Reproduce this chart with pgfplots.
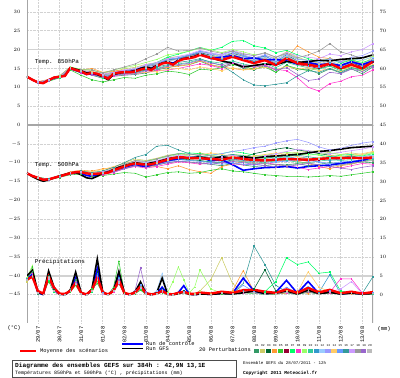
\documentclass[border=0pt]{standalone}
\usepackage{fontspec}
\setmainfont{Liberation Mono}
\usepackage{pgfplots}
\usepackage{pgfplotstable}
\pgfplotsset{compat=1.18}
\definecolor{c01}{HTML}{339966}\definecolor{c02}{HTML}{CCCC66}\definecolor{c03}{HTML}{006633}
\definecolor{c04}{HTML}{FF9933}\definecolor{c05}{HTML}{33CC33}\definecolor{c06}{HTML}{990033}
\definecolor{c07}{HTML}{00FF66}\definecolor{c08}{HTML}{FF33CC}\definecolor{c09}{HTML}{99FF66}
\definecolor{c10}{HTML}{33CC99}\definecolor{c11}{HTML}{3399CC}\definecolor{c12}{HTML}{99CCFF}
\definecolor{c13}{HTML}{9999FF}\definecolor{c14}{HTML}{FFCC66}\definecolor{c15}{HTML}{6699FF}
\definecolor{c16}{HTML}{339999}\definecolor{c17}{HTML}{CC99FF}\definecolor{c18}{HTML}{999999}
\definecolor{c19}{HTML}{9966CC}\definecolor{c20}{HTML}{BBBBBB}
\pgfplotstableset{T/.style={x expr=\coordindex/2-0.5,y index=0,header=false,row sep=\\},
P/.style={x expr={\coordindex<33 ? \coordindex/4-0.5 : \coordindex/2-8.5},y index=0,header=false,row sep=\\}}
\pgfplotsset{pert/.style={line width=0.55bp,mark=square*,mark size=0.35bp}}
\newcommand{\fs}[1]{\fontsize{#1}{#1}\selectfont}
\begin{document}
\begin{tikzpicture}
\useasboundingbox (0,0) rectangle (400bp,378bp);
\begin{axis}[at={(27bp,55bp)},anchor=south west,scale only axis,width=346bp,height=323bp,
 xmin=-0.5,xmax=15.5,ymin=-52.5,ymax=33.15,
 xtick={0,...,15},xticklabels={29/07,30/07,31/07,01/08,02/08,03/08,04/08,05/08,06/08,07/08,08/08,09/08,10/08,11/08,12/08,13/08},
 xticklabel style={rotate=90,anchor=east,font=\fs{5.5}},
 ytick={-45,-40,...,30},yticklabel style={font=\fs{5.5},xshift=-3bp},
 major tick length=0pt,axis line style={draw=none},
 grid=major,major grid style={gray!35,densely dotted,line width=0.6bp},
 clip=true]
\draw[gray!35,line width=1.5bp] (axis cs:-0.5,20)--(axis cs:15.5,20);
\draw[gray!35,line width=1.5bp] (axis cs:-0.5,10)--(axis cs:15.5,10);
\draw[gray!70,line width=1.5bp] (axis cs:-0.5,0)--(axis cs:15.5,0);
\draw[gray!35,line width=1.5bp] (axis cs:-0.5,-40)--(axis cs:15.5,-40);
\draw[gray!70,line width=1.4bp] (rel axis cs:0,0)--(rel axis cs:0,1);
\draw[gray!70,line width=1.4bp] (rel axis cs:1,0)--(rel axis cs:1,1);
% 850 hPa perturbations
\addplot[pert,c01] table[T]{12.8\\11.2\\11.8\\12.9\\14.9\\13.9\\13.2\\12.4\\12.9\\13.2\\13.4\\13.8\\14.6\\15.2\\15.8\\16.0\\16.9\\15.8\\15.5\\16.4\\15.0\\14.6\\15.8\\14.0\\15.9\\14.6\\14.8\\13.6\\14.9\\13.8\\14.9\\13.6\\15.4\\};
\addplot[pert,c02] table[T]{12.8\\11.4\\12.0\\12.7\\15.2\\14.6\\14.5\\13.8\\14.2\\14.9\\15.3\\16.1\\16.5\\17.8\\18.2\\18.4\\19.5\\19.0\\18.0\\19.2\\18.5\\17.4\\18.4\\17.8\\19.4\\18.0\\17.0\\16.4\\17.8\\16.5\\17.5\\16.2\\18.0\\};
\addplot[pert,c03] table[T]{12.8\\11.3\\11.9\\12.8\\15.0\\14.0\\13.9\\13.3\\14.0\\14.4\\14.8\\15.6\\16.2\\17.3\\17.6\\18.4\\19.2\\18.5\\17.9\\19.0\\18.2\\17.6\\18.3\\16.8\\18.6\\17.0\\16.3\\15.8\\16.4\\15.5\\16.8\\15.2\\17.4\\};
\addplot[pert,c04] table[T]{12.8\\11.5\\12.1\\13.0\\15.3\\14.6\\15.0\\14.0\\14.3\\14.6\\14.0\\14.8\\15.0\\15.3\\15.6\\16.0\\17.1\\16.0\\15.4\\15.0\\14.6\\15.2\\15.8\\16.4\\17.6\\21.0\\19.4\\18.0\\17.6\\16.8\\17.2\\16.0\\17.0\\};
\addplot[pert,c05] table[T]{12.8\\11.2\\11.6\\12.5\\14.6\\13.2\\12.0\\11.4\\12.0\\12.6\\12.4\\13.2\\13.6\\14.3\\14.0\\13.4\\14.8\\14.6\\15.2\\16.0\\15.6\\14.8\\15.4\\14.0\\15.8\\15.0\\14.4\\15.0\\15.6\\14.8\\15.4\\14.2\\15.8\\};
\addplot[pert,c06] table[T]{12.8\\11.3\\12.0\\12.9\\15.2\\14.4\\13.9\\13.2\\13.8\\14.4\\14.7\\15.4\\16.0\\17.0\\17.6\\18.2\\19.0\\18.3\\17.6\\18.6\\17.8\\16.8\\17.4\\16.2\\17.4\\16.0\\15.6\\15.0\\16.0\\15.2\\16.4\\15.6\\16.8\\};
\addplot[pert,c07] table[T]{12.8\\11.3\\11.7\\12.6\\14.8\\13.8\\13.4\\12.6\\13.2\\13.8\\14.6\\15.8\\16.6\\18.0\\18.8\\19.6\\20.6\\19.8\\20.6\\22.2\\22.4\\21.0\\20.4\\19.2\\19.8\\18.6\\17.6\\16.8\\17.6\\16.4\\17.2\\16.6\\17.4\\};
\addplot[pert,c08] table[T]{12.8\\11.2\\11.8\\12.7\\14.8\\13.9\\13.2\\12.8\\13.0\\13.4\\13.6\\14.0\\14.4\\14.6\\15.0\\15.6\\16.2\\15.8\\15.0\\16.4\\15.4\\15.6\\16.0\\14.8\\14.4\\12.6\\10.0\\9.0\\11.0\\11.6\\12.8\\13.2\\14.6\\};
\addplot[pert,c09] table[T]{12.8\\11.4\\12.0\\13.0\\15.4\\14.8\\14.6\\13.8\\14.6\\15.2\\15.8\\16.6\\17.4\\18.6\\19.0\\19.6\\20.4\\20.0\\19.2\\20.0\\19.4\\18.6\\19.0\\18.0\\18.8\\17.6\\17.2\\16.6\\17.4\\16.8\\17.6\\17.0\\18.2\\};
\addplot[pert,c10] table[T]{12.8\\11.3\\11.9\\12.8\\15.0\\14.2\\13.6\\12.8\\13.4\\13.6\\13.8\\14.6\\15.0\\15.8\\16.2\\16.6\\17.4\\16.8\\16.4\\17.0\\16.2\\15.6\\16.4\\15.2\\16.6\\15.8\\15.2\\14.8\\15.6\\14.4\\15.0\\14.6\\16.0\\};
\addplot[pert,c11] table[T]{12.8\\11.3\\11.8\\12.8\\15.1\\14.3\\13.9\\13.1\\13.8\\14.2\\14.4\\15.4\\16.2\\17.2\\17.6\\18.4\\19.2\\18.0\\17.6\\18.4\\17.6\\17.0\\17.8\\16.4\\18.0\\16.8\\16.4\\16.0\\16.6\\15.8\\16.6\\15.8\\17.2\\};
\addplot[pert,c12] table[T]{12.8\\11.2\\11.9\\12.9\\15.0\\14.1\\13.7\\13.0\\13.4\\14.0\\14.2\\15.2\\15.8\\17.0\\17.4\\18.0\\18.8\\18.4\\18.0\\18.8\\18.2\\17.6\\18.0\\17.2\\18.4\\17.6\\17.0\\16.8\\17.4\\16.6\\17.6\\17.2\\18.0\\};
\addplot[pert,c13] table[T]{12.8\\11.3\\12.0\\12.9\\15.2\\14.4\\14.2\\13.5\\14.0\\14.5\\14.8\\15.8\\16.4\\17.6\\17.8\\18.6\\19.4\\18.8\\18.4\\19.2\\18.6\\17.8\\18.6\\17.4\\18.8\\17.4\\17.2\\16.6\\17.6\\16.8\\18.0\\18.4\\19.6\\};
\addplot[pert,c14] table[T]{12.8\\11.4\\12.0\\12.9\\15.2\\14.4\\14.2\\13.4\\13.8\\13.8\\13.6\\14.0\\14.2\\14.8\\15.0\\14.6\\15.4\\15.0\\14.4\\15.2\\14.6\\14.8\\15.4\\14.6\\15.6\\14.8\\15.2\\14.4\\15.0\\14.2\\15.4\\14.6\\16.0\\};
\addplot[pert,c15] table[T]{12.8\\11.3\\11.9\\12.8\\15.0\\14.1\\13.6\\13.0\\13.6\\14.2\\14.6\\15.6\\16.2\\17.4\\17.8\\18.6\\19.6\\19.0\\18.6\\19.6\\18.4\\17.4\\18.4\\16.8\\18.2\\16.6\\15.8\\15.4\\16.4\\15.4\\16.6\\15.8\\17.6\\};
\addplot[pert,c16] table[T]{12.8\\11.3\\11.8\\12.7\\14.9\\14.0\\13.6\\12.8\\13.2\\13.6\\14.0\\14.6\\15.4\\16.0\\16.6\\17.0\\17.6\\16.6\\15.8\\14.0\\12.0\\10.6\\10.4\\10.8\\11.2\\13.0\\14.4\\14.0\\15.0\\14.0\\15.2\\14.8\\15.8\\};
\addplot[pert,c17] table[T]{12.8\\11.4\\12.0\\12.8\\15.2\\14.5\\14.0\\13.4\\14.0\\14.6\\15.0\\16.0\\16.6\\17.6\\18.2\\18.8\\19.8\\19.2\\18.6\\19.8\\19.0\\18.4\\19.0\\18.0\\19.2\\18.4\\18.0\\17.6\\18.8\\18.4\\19.4\\20.0\\21.6\\};
\addplot[pert,c18] table[T]{12.8\\11.3\\11.9\\12.9\\15.3\\14.6\\14.6\\13.8\\14.6\\15.4\\16.2\\17.6\\18.8\\20.6\\19.6\\19.8\\20.4\\19.6\\19.0\\19.6\\18.8\\18.4\\19.2\\18.0\\19.0\\17.8\\18.6\\19.6\\21.6\\19.4\\18.6\\17.6\\18.6\\};
\addplot[pert,c19] table[T]{12.8\\11.2\\11.8\\12.7\\14.9\\14.0\\13.4\\12.8\\13.2\\13.6\\13.6\\14.4\\14.8\\15.6\\16.0\\16.4\\17.2\\16.4\\16.0\\16.6\\15.8\\15.4\\15.8\\14.6\\15.2\\13.4\\11.8\\12.2\\14.0\\13.6\\14.8\\14.2\\15.4\\};
\addplot[pert,c20] table[T]{12.8\\11.3\\11.9\\12.8\\15.1\\14.3\\13.8\\13.2\\13.6\\14.2\\14.6\\15.4\\16.2\\17.0\\17.4\\18.2\\18.8\\18.2\\17.8\\18.6\\17.8\\17.2\\17.8\\16.6\\18.2\\17.0\\16.6\\16.2\\17.0\\16.0\\16.8\\16.2\\17.4\\};
% 500 hPa perturbations
\addplot[pert,c01] table[T]{-12.8\\-14.1\\-14.5\\-13.8\\-13.0\\-12.6\\-13.2\\-13.0\\-12.4\\-11.6\\-10.8\\-11.2\\-10.6\\-10.0\\-9.6\\-9.8\\-10.2\\-10.4\\-10.8\\-10.2\\-10.6\\-11.0\\-10.8\\-10.4\\-10.6\\-10.2\\-10.8\\-10.4\\-10.0\\-10.4\\-10.2\\-9.8\\-10.0\\};
\addplot[pert,c02] table[T]{-12.8\\-13.9\\-14.3\\-13.4\\-12.6\\-12.2\\-12.6\\-12.2\\-11.2\\-10.0\\-9.0\\-9.4\\-8.8\\-8.0\\-7.6\\-8.0\\-7.4\\-8.0\\-8.6\\-8.0\\-8.2\\-8.8\\-9.0\\-8.4\\-7.6\\-7.2\\-7.0\\-6.8\\-7.4\\-7.8\\-7.4\\-7.8\\-7.2\\};
\addplot[pert,c03] table[T]{-12.8\\-14.0\\-14.4\\-13.6\\-12.9\\-12.6\\-13.1\\-12.9\\-12.2\\-11.2\\-10.4\\-10.6\\-10.4\\-9.6\\-9.0\\-9.2\\-9.4\\-9.8\\-10.0\\-9.2\\-8.6\\-7.6\\-7.0\\-6.4\\-6.0\\-6.6\\-7.0\\-7.6\\-8.0\\-8.6\\-8.2\\-8.8\\-8.4\\};
\addplot[pert,c04] table[T]{-12.8\\-14.0\\-14.3\\-13.5\\-12.4\\-12.0\\-12.2\\-11.6\\-11.6\\-10.4\\-10.0\\-10.8\\-11.0\\-11.6\\-10.8\\-11.8\\-12.4\\-12.8\\-11.0\\-10.4\\-9.6\\-9.0\\-8.4\\-8.0\\-8.8\\-9.6\\-10.2\\-11.0\\-11.6\\-10.8\\-10.4\\-9.6\\-9.0\\};
\addplot[pert,c05] table[T]{-12.8\\-14.1\\-14.6\\-13.9\\-13.2\\-13.0\\-13.6\\-13.4\\-13.0\\-12.6\\-12.8\\-13.8\\-13.2\\-12.6\\-12.4\\-12.8\\-12.6\\-12.0\\-11.6\\-12.2\\-12.4\\-12.8\\-13.2\\-13.4\\-13.6\\-13.6\\-13.8\\-13.6\\-13.4\\-13.6\\-13.2\\-12.8\\-12.4\\};
\addplot[pert,c06] table[T]{-12.8\\-14.0\\-14.4\\-13.7\\-12.9\\-12.6\\-13.0\\-12.7\\-11.8\\-10.8\\-10.0\\-10.2\\-9.6\\-8.8\\-8.4\\-8.6\\-8.4\\-8.8\\-9.0\\-8.4\\-8.8\\-9.2\\-9.4\\-9.0\\-8.8\\-9.2\\-9.6\\-9.2\\-8.8\\-9.0\\-8.6\\-9.0\\-8.8\\};
\addplot[pert,c07] table[T]{-12.8\\-13.9\\-14.3\\-13.5\\-12.7\\-12.4\\-12.8\\-12.6\\-11.8\\-10.6\\-9.6\\-9.6\\-9.0\\-8.2\\-7.6\\-7.4\\-7.6\\-8.0\\-7.6\\-7.0\\-7.4\\-8.0\\-8.4\\-8.8\\-8.4\\-8.0\\-7.6\\-8.0\\-8.4\\-8.0\\-7.8\\-8.2\\-7.6\\};
\addplot[pert,c08] table[T]{-12.8\\-14.0\\-14.5\\-13.7\\-13.0\\-12.8\\-13.2\\-13.2\\-12.6\\-11.6\\-11.0\\-11.4\\-11.0\\-10.4\\-9.8\\-10.0\\-10.4\\-10.0\\-9.8\\-10.2\\-10.6\\-10.4\\-10.0\\-10.4\\-10.8\\-11.2\\-11.8\\-11.4\\-11.0\\-11.4\\-10.8\\-10.2\\-10.4\\};
\addplot[pert,c09] table[T]{-12.8\\-14.0\\-14.4\\-13.6\\-12.8\\-12.5\\-12.9\\-12.5\\-11.6\\-10.6\\-9.4\\-9.8\\-9.0\\-8.4\\-7.8\\-8.2\\-8.4\\-8.0\\-8.4\\-7.8\\-8.0\\-8.4\\-8.0\\-7.6\\-7.2\\-7.6\\-8.0\\-7.8\\-7.4\\-7.8\\-8.2\\-8.0\\-7.4\\};
\addplot[pert,c10] table[T]{-12.8\\-14.0\\-14.4\\-13.6\\-12.8\\-12.4\\-12.8\\-12.6\\-12.0\\-11.0\\-10.4\\-10.8\\-10.2\\-9.6\\-9.0\\-9.4\\-9.6\\-9.8\\-10.0\\-9.4\\-9.8\\-10.2\\-9.8\\-9.6\\-9.4\\-9.8\\-10.0\\-9.6\\-9.2\\-9.4\\-9.2\\-9.6\\-9.2\\};
\addplot[pert,c11] table[T]{-12.8\\-14.1\\-14.5\\-13.7\\-12.9\\-12.6\\-13.0\\-12.8\\-12.0\\-11.0\\-10.0\\-10.2\\-9.8\\-9.0\\-8.4\\-8.8\\-9.0\\-9.4\\-9.6\\-9.0\\-9.4\\-9.8\\-9.6\\-9.2\\-8.8\\-8.4\\-8.8\\-9.0\\-9.4\\-9.0\\-8.8\\-8.4\\-8.0\\};
\addplot[pert,c12] table[T]{-12.8\\-14.0\\-14.4\\-13.6\\-12.8\\-12.4\\-12.8\\-12.6\\-11.8\\-10.8\\-10.0\\-10.0\\-9.6\\-9.0\\-8.4\\-8.6\\-8.8\\-9.0\\-8.8\\-8.4\\-8.8\\-9.0\\-9.2\\-8.8\\-8.6\\-8.8\\-9.0\\-8.8\\-8.6\\-8.4\\-8.2\\-8.4\\-8.0\\};
\addplot[pert,c13] table[T]{-12.8\\-14.0\\-14.4\\-13.6\\-12.8\\-12.5\\-12.9\\-12.7\\-12.0\\-11.0\\-10.0\\-10.2\\-9.8\\-9.2\\-8.6\\-8.8\\-8.4\\-8.0\\-7.6\\-7.0\\-6.6\\-6.0\\-5.6\\-4.8\\-4.2\\-3.8\\-4.6\\-5.8\\-6.6\\-6.2\\-5.4\\-4.8\\-4.4\\};
\addplot[pert,c14] table[T]{-12.8\\-14.0\\-14.3\\-13.5\\-12.6\\-12.2\\-12.4\\-11.8\\-11.0\\-10.2\\-9.6\\-10.4\\-10.0\\-9.4\\-8.8\\-8.6\\-8.0\\-7.4\\-7.8\\-8.4\\-8.8\\-8.2\\-7.8\\-7.4\\-7.8\\-8.4\\-9.0\\-8.6\\-8.0\\-8.4\\-8.0\\-7.6\\-7.0\\};
\addplot[pert,c15] table[T]{-12.8\\-14.0\\-14.4\\-13.6\\-12.8\\-12.5\\-13.0\\-12.9\\-12.2\\-11.2\\-10.6\\-10.8\\-10.4\\-9.8\\-9.2\\-9.4\\-9.6\\-10.0\\-10.4\\-10.0\\-10.4\\-10.6\\-10.2\\-9.8\\-9.6\\-9.2\\-9.4\\-9.8\\-10.2\\-9.8\\-9.6\\-9.2\\-8.8\\};
\addplot[pert,c16] table[T]{-12.8\\-13.9\\-14.3\\-13.5\\-12.6\\-12.2\\-12.6\\-12.2\\-11.2\\-10.0\\-8.6\\-7.8\\-5.6\\-5.4\\-6.6\\-7.6\\-8.2\\-8.6\\-8.2\\-7.8\\-8.2\\-8.6\\-8.8\\-8.4\\-8.2\\-8.0\\-8.4\\-8.8\\-8.4\\-8.6\\-8.2\\-8.8\\-8.4\\};
\addplot[pert,c17] table[T]{-12.8\\-14.0\\-14.4\\-13.6\\-12.7\\-12.4\\-12.8\\-12.4\\-11.6\\-10.4\\-9.6\\-9.8\\-9.4\\-8.6\\-8.0\\-8.4\\-8.6\\-8.8\\-8.4\\-8.0\\-8.4\\-8.6\\-8.2\\-7.6\\-7.0\\-6.4\\-6.8\\-7.2\\-7.6\\-7.2\\-6.8\\-6.4\\-5.8\\};
\addplot[pert,c18] table[T]{-12.8\\-14.0\\-14.4\\-13.6\\-12.8\\-12.6\\-13.0\\-12.6\\-11.6\\-10.4\\-9.4\\-9.6\\-9.0\\-8.2\\-7.6\\-7.8\\-7.8\\-8.2\\-8.8\\-9.2\\-9.6\\-10.0\\-10.2\\-10.6\\-10.8\\-10.4\\-10.0\\-10.6\\-11.0\\-10.6\\-10.2\\-9.8\\-9.4\\};
\addplot[pert,c19] table[T]{-12.8\\-14.1\\-14.5\\-13.8\\-13.0\\-12.8\\-13.2\\-13.0\\-12.4\\-11.6\\-10.8\\-11.0\\-10.6\\-10.0\\-9.6\\-9.8\\-10.0\\-10.4\\-10.0\\-9.6\\-10.0\\-10.4\\-10.8\\-11.2\\-11.0\\-10.6\\-10.2\\-10.6\\-11.0\\-11.4\\-11.8\\-11.2\\-10.8\\};
\addplot[pert,c20] table[T]{-12.8\\-14.0\\-14.4\\-13.6\\-12.8\\-12.5\\-12.9\\-12.7\\-11.9\\-10.9\\-10.1\\-10.3\\-9.9\\-9.1\\-8.6\\-8.7\\-8.7\\-9.0\\-9.1\\-8.6\\-9.0\\-9.2\\-9.4\\-9.1\\-8.9\\-9.0\\-9.1\\-8.9\\-8.7\\-8.7\\-8.6\\-8.7\\-8.5\\};
% control, GFS, mean 850
\addplot[blue,line width=1.6bp] table[P]{12.8\\12.0\\11.3\\11.2\\11.9\\12.5\\12.8\\13.0\\15.0\\14.5\\14.0\\13.4\\13.6\\13.4\\12.9\\12.4\\13.4\\13.8\\14.0\\14.2\\14.4\\15.0\\15.2\\15.0\\15.8\\16.4\\16.8\\16.4\\17.2\\17.6\\17.8\\18.2\\18.8\\17.6\\18.0\\18.4\\17.6\\17.8\\17.2\\17.4\\17.0\\16.2\\16.6\\16.0\\16.2\\15.8\\16.8\\16.0\\17.0\\};
\addplot[black,line width=1.6bp] table[P]{12.8\\12.0\\11.3\\11.1\\11.9\\12.6\\12.9\\13.0\\15.2\\14.8\\14.4\\13.8\\14.0\\13.4\\12.8\\12.0\\13.4\\13.8\\14.0\\14.1\\14.4\\15.0\\15.4\\15.0\\15.8\\16.4\\16.8\\16.2\\17.2\\17.6\\17.9\\18.2\\18.8\\17.8\\17.0\\16.4\\15.4\\15.8\\16.2\\16.0\\16.8\\16.6\\16.8\\17.2\\17.0\\17.4\\17.6\\17.8\\18.6\\};
\addplot[red,line width=2.4bp] table[P]{12.8\\12.0\\11.3\\11.1\\11.9\\12.6\\12.8\\13.0\\15.1\\14.6\\14.2\\13.5\\13.8\\13.6\\13.0\\12.3\\13.6\\13.9\\14.0\\14.0\\14.2\\14.7\\15.0\\14.6\\15.6\\16.3\\16.6\\16.0\\17.0\\17.5\\17.7\\18.0\\18.6\\17.8\\17.2\\18.1\\17.2\\16.4\\17.2\\15.9\\17.7\\16.4\\16.0\\15.5\\16.3\\15.0\\16.0\\15.0\\16.8\\};
% control, GFS, mean 500
\addplot[blue,line width=1.6bp] table[P]{-12.8\\-13.5\\-14.1\\-14.6\\-14.4\\-14.0\\-13.6\\-13.2\\-12.8\\-12.6\\-12.8\\-13.4\\-13.6\\-13.2\\-12.8\\-12.4\\-12.0\\-11.6\\-11.2\\-10.8\\-10.4\\-10.8\\-11.0\\-10.6\\-10.2\\-9.8\\-9.4\\-9.2\\-9.0\\-8.8\\-8.6\\-8.6\\-8.5\\-9.5\\-9.2\\-10.5\\-12.0\\-11.6\\-11.3\\-11.2\\-11.0\\-11.4\\-11.0\\-10.8\\-10.6\\-10.2\\-9.8\\-9.4\\-8.6\\};
\addplot[black,line width=1.6bp] table[P]{-12.8\\-13.7\\-14.4\\-14.9\\-14.6\\-14.0\\-13.5\\-13.1\\-12.7\\-12.6\\-13.2\\-14.0\\-14.2\\-13.6\\-12.8\\-12.5\\-11.8\\-11.2\\-10.8\\-10.4\\-10.0\\-10.2\\-10.4\\-10.0\\-9.8\\-9.4\\-9.0\\-8.7\\-8.5\\-8.6\\-8.8\\-8.6\\-8.5\\-9.0\\-8.4\\-8.8\\-8.4\\-8.8\\-8.4\\-8.2\\-8.0\\-7.8\\-7.4\\-7.0\\-6.8\\-6.4\\-6.0\\-5.8\\-5.6\\};
\addplot[red,line width=2.4bp] table[P]{-12.8\\-13.5\\-14.0\\-14.5\\-14.4\\-14.0\\-13.6\\-13.2\\-12.8\\-12.5\\-12.5\\-12.8\\-13.0\\-12.9\\-12.8\\-12.6\\-12.0\\-11.5\\-11.0\\-10.5\\-10.2\\-10.4\\-10.5\\-10.4\\-10.0\\-9.6\\-9.2\\-8.8\\-8.6\\-8.6\\-8.8\\-8.8\\-8.8\\-9.0\\-9.2\\-8.6\\-9.0\\-9.3\\-9.4\\-9.2\\-9.0\\-9.1\\-9.2\\-9.0\\-8.8\\-8.8\\-8.7\\-8.8\\-8.6\\};
\node[anchor=west,font=\fs{6}] at (axis cs:-0.3,16.8) {Temp. 850hPa};
\node[anchor=west,font=\fs{6}] at (axis cs:-0.3,-10.5) {Temp. 500hPa};
\node[anchor=west,font=\fs{6}] at (axis cs:-0.3,-36.2) {Précipitations};
\end{axis}
\begin{axis}[at={(27bp,55bp)},anchor=south west,scale only axis,width=346bp,height=323bp,
 xmin=-0.5,xmax=15.5,ymin=-7.5,ymax=78.15,
 hide x axis,axis line style={draw=none},axis y line*=right,
 ytick={0,5,...,75},yticklabel style={font=\fs{5.5},xshift=3bp},major tick length=0pt,clip=true]
\addplot[pert,c01] table[P]{4.5\\6\\0.3\\0\\5\\1.2\\0.1\\0\\1.5\\4\\0.2\\0\\0.8\\5\\0.5\\0\\1.2\\4.5\\0.2\\0\\0.3\\1.5\\0.1\\0\\0.2\\0.8\\0\\0\\0.2\\0.4\\0\\0\\0.1\\0\\0.3\\0.1\\0.5\\0.4\\0.1\\0.2\\0.5\\0.1\\0.6\\0.2\\0.5\\0.1\\0.3\\0\\0.2\\};
\addplot[pert,c02] table[P]{3.5\\5\\0.4\\0\\4\\0.8\\0\\0\\0.8\\2.5\\0.2\\0\\0.8\\3.5\\0.3\\0\\0.8\\3\\0.2\\0\\0.4\\1.6\\0.1\\0\\0.2\\0.8\\0\\0\\0.2\\0.5\\0\\0.2\\1\\4\\9.8\\3\\0.6\\0.4\\0.2\\0.3\\0.6\\0.2\\0.8\\0.2\\0.6\\0.2\\0.4\\0.1\\0.3\\};
\addplot[pert,c03] table[P]{4\\5.5\\0.6\\0\\5\\1.3\\0\\0\\1.2\\3.5\\0.4\\0\\1.2\\6\\0.5\\0\\1.2\\4\\0.4\\0\\0.6\\2.5\\0.2\\0\\0.4\\1.5\\0\\0\\0.4\\1\\0\\0\\0.3\\0.2\\0.4\\0.3\\1\\1.5\\6.6\\1\\0.6\\0.2\\0.8\\0.2\\0.6\\0.2\\0.4\\0.1\\0.3\\};
\addplot[pert,c04] table[P]{4\\5\\0.5\\0\\4.2\\1\\0\\0\\1\\3.2\\0.3\\0\\1.3\\4.5\\0.4\\0\\0.8\\3\\0.2\\0\\0.4\\1.8\\0.1\\0\\0.3\\1.2\\0\\0\\0.2\\0.5\\0\\0\\0.4\\0.2\\0.4\\1\\6.4\\0.8\\0.5\\0.2\\0.4\\1\\0.3\\1.2\\0.4\\0.8\\0.2\\0.6\\0.1\\};
\addplot[pert,c05] table[P]{4\\7.5\\0.4\\0\\3.5\\0.8\\0\\0\\0.8\\2.5\\0.3\\0\\1.5\\3\\0.5\\0\\2\\8.9\\0.5\\0\\0.3\\1.2\\0.1\\0\\0.2\\0.6\\0\\0\\0.2\\0.4\\0\\0\\0.2\\0\\0.3\\0.1\\0.6\\0.4\\0.1\\0.2\\0.6\\0.1\\0.8\\0.2\\0.6\\0.1\\0.4\\0.1\\0.3\\};
\addplot[pert,c06] table[P]{4.2\\5.2\\0.5\\0\\4.6\\1\\0\\0\\1\\3.4\\0.3\\0\\1\\4.6\\0.4\\0\\1\\3.6\\0.3\\0\\0.5\\2.2\\0.2\\0\\0.3\\1\\0\\0\\0.3\\0.8\\0\\0\\0.3\\0\\0.5\\0.2\\1\\0.6\\0.2\\0.3\\0.8\\0.2\\1.2\\0.3\\0.8\\0.2\\0.5\\0.1\\0.4\\};
\addplot[pert,c07] table[P]{3.8\\5\\0.5\\0\\4\\0.8\\0\\0\\0.9\\2.8\\0.2\\0\\0.8\\3.6\\0.3\\0\\0.8\\3\\0.2\\0\\0.4\\1.6\\0.1\\0\\0.2\\0.8\\0\\0\\0.2\\0.5\\0\\0\\0.2\\0\\0.4\\0.2\\0.6\\0.4\\0.8\\3.5\\9.8\\8.0\\8.7\\5.7\\6.0\\1.0\\0.4\\0.2\\0.4\\};
\addplot[pert,c08] table[P]{4\\5.6\\0.4\\0\\4.4\\1\\0\\0\\1\\3\\0.3\\0\\1\\4\\0.4\\0\\0.8\\3\\0.3\\0\\0.5\\1.8\\0.2\\0\\0.3\\0.8\\0\\0\\0.3\\0.6\\0\\0\\0.3\\0\\0.4\\0.2\\0.6\\0.5\\0.2\\0.3\\0.6\\0.2\\0.8\\0.3\\0.6\\4.2\\4.2\\0.5\\0.3\\};
\addplot[pert,c09] table[P]{4.5\\7.8\\0.6\\0\\4.8\\1\\0\\0\\1\\3\\0.3\\0\\1\\4.2\\0.4\\0\\1\\3.5\\0.3\\0\\0.5\\2\\0.2\\0\\0.3\\1\\0.5\\3.5\\7.4\\4\\0.5\\2\\6.6\\1.5\\0.5\\0.2\\0.8\\0.6\\0.2\\0.3\\0.8\\0.2\\1\\0.3\\0.8\\0.2\\0.5\\0.1\\0.4\\};
\addplot[pert,c10] table[P]{3.8\\4.8\\0.5\\0\\4.2\\0.9\\0\\0\\0.9\\2.8\\0.3\\0\\0.9\\3.8\\0.3\\0\\0.9\\3.2\\0.3\\0\\0.4\\1.8\\0.2\\0\\0.2\\0.9\\0\\0\\0.3\\0.5\\0\\0\\0.2\\0\\0.4\\0.2\\0.7\\0.5\\0.2\\0.3\\0.7\\0.2\\0.9\\0.3\\0.7\\0.2\\0.4\\0.1\\0.3\\};
\addplot[pert,c11] table[P]{4.2\\5.2\\0.5\\0\\4.6\\1.1\\0\\0\\1.1\\3.6\\0.4\\0\\1.2\\5.5\\0.5\\0\\1.2\\4.5\\0.4\\0\\0.6\\2.4\\0.2\\0\\0.4\\1.2\\0\\0\\0.3\\0.8\\0\\0\\0.3\\0.1\\0.6\\0.3\\1\\0.8\\0.3\\0.4\\1\\0.3\\1.4\\0.6\\5.3\\0.4\\0.6\\0.2\\0.5\\};
\addplot[pert,c12] table[P]{4\\5\\0.5\\0\\4.5\\1\\0\\0\\1\\3.2\\0.3\\0\\1.1\\4.4\\0.4\\0\\1\\3.6\\0.3\\0\\0.6\\2.4\\0.3\\0\\1\\5.7\\0.3\\0\\0.3\\0.8\\0\\0\\0.3\\0\\0.5\\0.2\\0.8\\0.6\\0.2\\0.3\\0.8\\0.2\\1\\0.3\\0.8\\0.2\\0.5\\0.1\\0.4\\};
\addplot[pert,c13] table[P]{3.9\\5.1\\0.5\\0\\4.5\\1\\0\\0\\1\\3.1\\0.3\\0\\1\\4.1\\0.4\\0\\1\\3.6\\0.3\\0\\0.5\\2.1\\0.2\\0\\0.3\\1.1\\0\\0\\0.3\\0.6\\0\\0\\0.3\\0\\0.5\\0.2\\0.8\\0.6\\0.2\\0.3\\0.8\\0.2\\1\\0.3\\0.8\\0.2\\0.5\\0.1\\0.4\\};
\addplot[pert,c14] table[P]{4\\5\\0.5\\0\\4.3\\0.9\\0\\0\\1\\3\\0.3\\0\\1\\3.8\\0.3\\0\\0.9\\3.2\\0.3\\0\\0.4\\1.8\\0.2\\0\\0.3\\0.9\\0\\0\\0.3\\0.6\\0\\0\\0.3\\0\\0.5\\0.2\\0.8\\0.6\\0.2\\0.3\\1.2\\0.5\\6.1\\2\\0.8\\0.2\\0.5\\0.1\\0.4\\};
\addplot[pert,c15] table[P]{4.1\\5.3\\0.6\\0\\4.7\\1.1\\0\\0\\1.1\\3.4\\0.4\\0\\1.1\\5\\0.5\\0\\1.1\\4.2\\0.4\\0\\0.6\\2.6\\0.2\\0\\0.4\\1.3\\0\\0\\0.4\\0.9\\0\\0\\0.4\\0.1\\0.6\\0.4\\2.5\\0.8\\0.3\\0.4\\2\\0.3\\2.2\\0.4\\1\\0.2\\0.6\\0.2\\0.5\\};
\addplot[pert,c16] table[P]{4\\5\\0.5\\0\\4.4\\1\\0\\0\\1\\3\\0.3\\0\\1\\4\\0.4\\0\\1\\3.4\\0.3\\0\\0.5\\2\\0.2\\0\\0.3\\1\\0\\0\\0.3\\0.6\\0\\0\\0.3\\0\\0.5\\0.2\\3\\12.9\\8\\2.5\\0.8\\0.2\\1\\0.3\\0.8\\0.2\\0.5\\0.3\\4.8\\};
\addplot[pert,c17] table[P]{3.9\\5\\0.5\\0\\4.2\\0.9\\0\\0\\0.9\\2.9\\0.3\\0\\0.9\\3.8\\0.3\\0\\0.9\\3.2\\0.3\\0\\0.4\\1.8\\0.2\\0\\0.3\\0.9\\0\\0\\0.3\\0.6\\0\\0\\0.3\\0\\0.5\\0.2\\0.8\\0.6\\0.2\\0.3\\0.8\\0.2\\1\\0.3\\0.8\\1.5\\3.5\\0.3\\0.4\\};
\addplot[pert,c18] table[P]{4\\5.4\\0.5\\0\\4.8\\1.1\\0\\0\\1\\3.4\\0.3\\0\\1.1\\4.6\\0.4\\0\\1\\3.8\\0.3\\0\\0.5\\2.2\\0.2\\0\\0.3\\1\\0\\0\\0.3\\0.6\\0\\0\\0.3\\0\\0.5\\0.2\\0.8\\0.6\\0.2\\0.3\\0.8\\0.2\\1\\0.3\\0.8\\0.2\\0.5\\0.1\\0.4\\};
\addplot[pert,c19] table[P]{4\\5.2\\0.5\\0\\4.6\\1\\0\\0\\1\\3.2\\0.3\\0\\1\\4.4\\0.4\\0\\1.2\\4\\0.4\\0\\1.2\\7.1\\0.8\\0\\0.3\\1\\0\\0\\0.3\\0.6\\0\\0\\0.3\\0\\0.5\\0.2\\0.8\\0.6\\0.2\\0.3\\0.8\\0.2\\1\\0.3\\0.8\\0.2\\0.5\\0.1\\0.4\\};
\addplot[pert,c20] table[P]{4\\5\\0.5\\0\\4.5\\1\\0\\0\\1\\3\\0.3\\0\\1\\4\\0.4\\0\\1\\3.5\\0.3\\0\\0.5\\2\\0.2\\0\\0.3\\1\\0\\0\\0.3\\0.6\\0\\0\\0.3\\0\\0.5\\0.2\\0.8\\0.6\\0.2\\0.3\\0.8\\0.2\\1\\0.3\\0.8\\0.2\\0.5\\0.1\\0.4\\};
\addplot[blue,line width=1.6bp] table[P]{4.0\\5.5\\0.6\\0\\5.0\\1.5\\0.2\\0\\1.0\\4.5\\0.4\\0\\1.2\\7.0\\0.6\\0\\1.2\\5.6\\0.4\\0\\0.6\\2.6\\0.3\\0\\0.4\\2.0\\0.2\\0\\0.6\\2.4\\0.2\\0\\0.2\\0.1\\0.4\\0.3\\4.4\\1.0\\0.3\\0.6\\3.8\\0.4\\3.5\\0.3\\1.0\\0.2\\0.5\\0.2\\0.6\\};
\addplot[black,line width=1.6bp] table[P]{5.0\\6.5\\0.8\\0.1\\6.3\\2.0\\0.2\\0\\1.2\\6.0\\0.6\\0\\1.5\\9.5\\0.8\\0\\1.0\\6.2\\0.5\\0\\0.8\\3.4\\0.4\\0\\0.5\\4.4\\0.2\\0\\0.3\\0.8\\0.1\\0\\0.2\\0.1\\0.3\\0.2\\0.5\\1.0\\0.3\\0.4\\1.0\\0.2\\1.2\\0.3\\0.6\\0.2\\0.4\\0.2\\0.3\\};
\addplot[red,line width=2.4bp] table[P]{4.0\\4.8\\1.0\\0.3\\4.8\\1.8\\0.3\\0.2\\1.0\\3.2\\0.5\\0.1\\1.2\\4.6\\0.6\\0.1\\1.0\\3.8\\0.5\\0.1\\0.6\\2.2\\0.4\\0.1\\0.3\\1.0\\0.2\\0.1\\0.5\\0.8\\0.3\\0.2\\0.6\\0.3\\0.8\\0.5\\1.2\\1.3\\0.8\\0.5\\1.4\\0.5\\1.8\\0.6\\1.3\\0.4\\0.8\\0.3\\0.7\\};
\end{axis}
% units and legend
\node[anchor=west,font=\fs{5.5}] at (4bp,50bp) {(°C)};
\node[anchor=west,font=\fs{5.5}] at (374bp,49bp) {(mm)};
\draw[red,line width=2.4bp] (20bp,27bp)--(36bp,27bp);
\node[anchor=west,font=\fs{5.4},inner sep=0pt] at (40bp,27bp) {Moyenne des scénarios};
\draw[blue,line width=1.8bp] (122bp,34bp)--(143bp,34bp);
\node[anchor=west,font=\fs{5.4},inner sep=0pt] at (146bp,34.5bp) {Run de contrôle};
\draw[black,line width=1.8bp] (122bp,29.5bp)--(143bp,29.5bp);
\node[anchor=west,font=\fs{5.4},inner sep=0pt] at (146bp,29bp) {Run GFS};
\node[anchor=west,font=\fs{5.4},inner sep=0pt] at (199bp,28bp) {20 Perturbations};
\foreach \n [count=\i] in {01,02,03,04,05,06,07,08,09,10,11,12,13,14,15,16,17,18,19,20}{
 \fill[c\n] ({254bp+(\i-1)*5.95bp},25bp) rectangle ({254bp+\i*5.95bp-0.6bp},29bp);
 \node[font=\fs{3},inner sep=0pt] at ({254bp+(\i-0.5)*5.95bp},32bp) {\n};}
\draw[black!70,line width=0.8bp] (12bp,0.5bp) rectangle (236bp,17.5bp);
\node[anchor=west,font=\bfseries\fs{6.2},inner sep=0pt] at (15bp,12bp) {Diagramme des ensembles GEFS sur 384h : 42,9N 13,1E};
\node[anchor=west,font=\fs{5},inner sep=0pt] at (15bp,4.5bp) {Températures 850hPa et 500hPa (°C) , précipitations (mm)};
\node[anchor=west,font=\fs{4.2},inner sep=0pt] at (243bp,15bp) {Ensemble GEFS du 28/07/2011 - 12h};
\node[anchor=west,font=\bfseries\fs{4.6},inner sep=0pt] at (243bp,4.5bp) {Copyright 2011 Meteociel.fr};
\end{tikzpicture}
\end{document}
